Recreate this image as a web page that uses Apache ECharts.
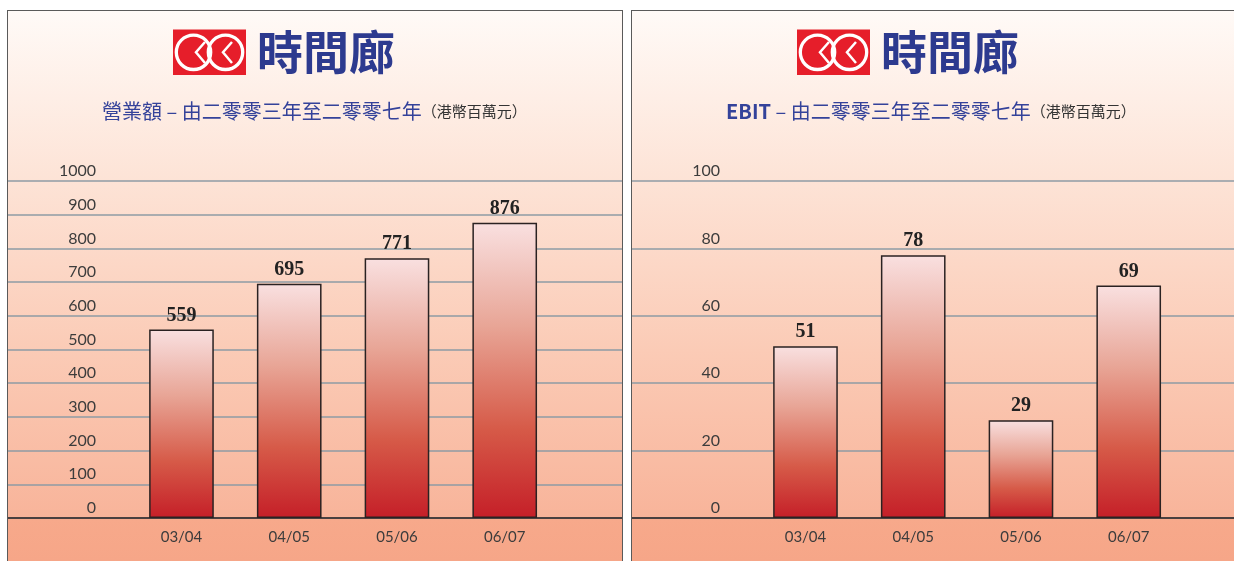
<!DOCTYPE html>
<html>
<head>
<meta charset="utf-8">
<script src="https://cdn.jsdelivr.net/npm/echarts@6/dist/echarts.min.js"></script>
<style>
  html, body { margin: 0; padding: 0; width: 1234px; height: 561px; overflow: hidden; background: #fff; }
  .panel {
    position: absolute; top: 11px; width: 614px; height: 550px;
    outline: 1.5px solid #5a5a5a;
    background: linear-gradient(to bottom, #fffaf7 0px, #fde3d6 170px, #fbcbb6 340px, #f8b49a 507px, #f7a98b 507px, #f6a688 550px);
  }
  #revenue { left: 8px; }
  #ebit { left: 632px; }
</style>
</head>
<body>
<div id="revenue" class="panel"></div>
<div id="ebit" class="panel"></div>
<script>
// 年度
const categories = ['03/04', '04/05', '05/06', '06/07'];
// 營業額 (港幣百萬元)
const revenue = [559, 695, 771, 876];
// EBIT (港幣百萬元)
const ebit = [51, 78, 29, 69];
// 軸刻度 [min, max, interval]
const revenueAxis = [0, 1000, 100];
const ebitAxis = [0, 100, 20];

const brand = '時間廊';
const revenueTitle = '營業額';
const ebitTitle = 'EBIT';
const periodText = ' – 由二零零三年至二零零七年';
const unitText = '（港幣百萬元）';

const blue = '#2d3a8f';

function logo() {
  return [
    { type: 'rect', shape: { x: 165, y: 18.5, width: 73, height: 45.5 }, style: { fill: '#e61e2a' } },
    { type: 'circle', shape: { cx: 185.5, cy: 41.3, r: 17.2 }, style: { fill: 'none', stroke: '#fff', lineWidth: 3.3 } },
    { type: 'circle', shape: { cx: 217.5, cy: 41.3, r: 17.2 }, style: { fill: 'none', stroke: '#fff', lineWidth: 3.3 } },
    { type: 'polyline', shape: { points: [[197, 31], [188, 41.3], [197, 52]] }, style: { fill: 'none', stroke: '#fff', lineWidth: 2.5 } },
    { type: 'polyline', shape: { points: [[224, 31], [215, 41.3], [224, 52]] }, style: { fill: 'none', stroke: '#fff', lineWidth: 2.5 } }
  ];
}

function makeChart(id, name, boldName, values, axis, subLeft) {
  let myChart = echarts.init(document.getElementById(id));
  const [min, max, interval] = axis;
  myChart.setOption({
    animation: false,
    backgroundColor: 'transparent',
    title: [
      {
        text: brand, left: 244, top: 13,
        textStyle: { fontFamily: 'Noto Sans CJK TC', fontSize: 46, fontWeight: 'bold', color: blue }
      },
      {
        text: '{a|' + name + '}{b|' + periodText + '}{c|' + unitText + '}',
        left: subLeft, top: 83,
        textStyle: {
          fontWeight: 'normal',
          rich: {
            a: { fontFamily: 'Noto Sans CJK TC', fontSize: 20, fontWeight: boldName ? 'bold' : 'normal', color: '#34429a', lineHeight: 24 },
            b: { fontFamily: 'Noto Sans CJK TC', fontSize: 20, fontWeight: 'normal', color: '#34429a', lineHeight: 24 },
            c: { fontFamily: 'Noto Sans CJK TC', fontSize: 15, fontWeight: 'normal', color: '#333', lineHeight: 24 }
          }
        }
      }
    ],
    graphic: logo(),
    grid: [
      { left: 0, width: 614, top: 170, height: 337 },
      { left: 119.6, width: 431, top: 170, height: 337 }
    ],
    xAxis: [
      {
        gridIndex: 0, type: 'value', min: 0, max: 1,
        axisLine: { show: true, lineStyle: { color: '#4a4040', width: 2 } },
        axisTick: { show: false }, axisLabel: { show: false }, splitLine: { show: false }
      },
      {
        gridIndex: 1, type: 'category', data: categories,
        axisLine: { show: false }, axisTick: { show: false },
        axisLabel: { margin: 12, fontFamily: 'Lato', fontSize: 15, color: '#3c3c3c' }
      }
    ],
    yAxis: [
      {
        gridIndex: 0, type: 'value', min: min, max: max, interval: interval,
        axisLine: { show: false }, axisTick: { show: false }, axisLabel: { show: false },
        splitLine: { show: true, lineStyle: { color: '#8e9ba5', width: 1.5 } }
      },
      {
        gridIndex: 1, type: 'value', min: min, max: max, interval: interval,
        axisLine: { show: false }, axisTick: { show: false }, splitLine: { show: false },
        axisLabel: {
          margin: 31.6, verticalAlign: 'bottom', padding: [0, 0, 2, 0],
          fontFamily: 'Lato', fontSize: 16, color: '#3c3c3c',
          formatter: (v) => String(v)
        }
      }
    ],
    series: [
      {
        type: 'bar', xAxisIndex: 1, yAxisIndex: 1,
        data: values, barWidth: '60%',
        itemStyle: {
          borderColor: '#2a2222', borderWidth: 1.5,
          color: new echarts.graphic.LinearGradient(0, 0, 0, 1, [
            { offset: 0, color: '#f9e0e0' },
            { offset: 0.35, color: '#e8a596' },
            { offset: 0.7, color: '#d65a48' },
            { offset: 1, color: '#c51f28' }
          ])
        },
        label: {
          show: true, position: 'top', distance: 4,
          fontFamily: 'Liberation Serif', fontWeight: 'bold', fontSize: 20, color: '#222'
        }
      }
    ]
  });
  return myChart;
}

makeChart('revenue', revenueTitle, false, revenue, revenueAxis, 89);
makeChart('ebit', ebitTitle, true, ebit, ebitAxis, 89);
</script>
</body>
</html>
